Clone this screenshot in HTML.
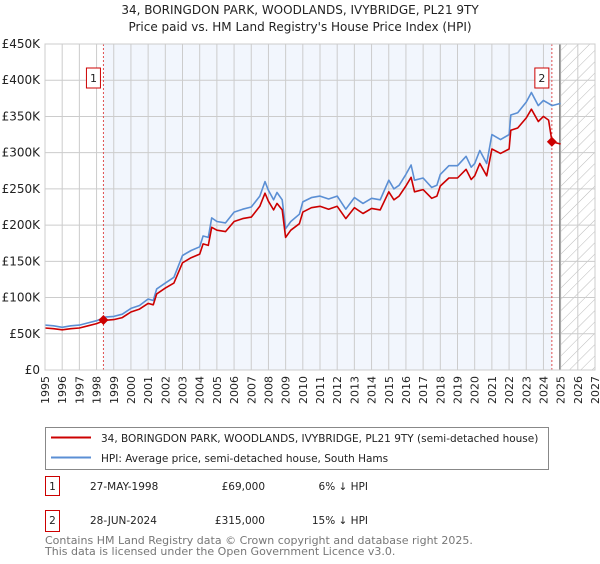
<!DOCTYPE html>
<html><head><meta charset="utf-8"><style>
body{margin:0;background:#fff;font-family:"DejaVu Sans","Liberation Sans",sans-serif;}
svg text{font-family:"DejaVu Sans","Liberation Sans",sans-serif;}
</style></head><body>
<svg id="c" width="600" height="560" xmlns="http://www.w3.org/2000/svg">
<defs><pattern id="hatch" width="8" height="8" patternUnits="userSpaceOnUse" patternTransform="rotate(45)"><line x1="0" y1="0" x2="0" y2="8" stroke="#bbb" stroke-width="1"/></pattern></defs>
<text x="300" y="14" text-anchor="middle" font-size="12" fill="#222">34, BORINGDON PARK, WOODLANDS, IVYBRIDGE, PL21 9TY</text>
<text x="300" y="31" text-anchor="middle" font-size="12" fill="#222">Price paid vs. HM Land Registry's House Price Index (HPI)</text>
<g id="plot"></g>
<g>
<rect x="45.5" y="427.5" width="503" height="42" fill="#fff" stroke="#888"/>
<line x1="51" y1="437.5" x2="91" y2="437.5" stroke="#cc0000" stroke-width="2"/>
<text x="101" y="442" font-size="10.5" fill="#222">34, BORINGDON PARK, WOODLANDS, IVYBRIDGE, PL21 9TY (semi-detached house)</text>
<line x1="51" y1="457.5" x2="91" y2="457.5" stroke="#5b8fd4" stroke-width="2"/>
<text x="101" y="462" font-size="10.5" fill="#222">HPI: Average price, semi-detached house, South Hams</text>
</g>
<g font-size="10.5" fill="#222">
<rect x="45.5" y="476.5" width="14" height="19" fill="#fff" stroke="#cc0000"/>
<text x="52.5" y="490" text-anchor="middle">1</text>
<text x="90" y="490">27-MAY-1998</text>
<text x="265" y="490" text-anchor="end">£69,000</text>
<text x="368" y="490" text-anchor="end">6% ↓ HPI</text>
<rect x="45.5" y="510.5" width="14" height="21" fill="#fff" stroke="#cc0000"/>
<text x="52.5" y="524" text-anchor="middle">2</text>
<text x="90" y="524">28-JUN-2024</text>
<text x="265" y="524" text-anchor="end">£315,000</text>
<text x="368" y="524" text-anchor="end">15% ↓ HPI</text>
</g>
<text x="45" y="544" font-size="11" fill="#777">Contains HM Land Registry data © Crown copyright and database right 2025.</text>
<text x="45" y="555" font-size="11" fill="#777">This data is licensed under the Open Government Licence v3.0.</text>
</svg>
<script>
const years=[1995,1995.5,1996,1996.5,1997,1997.5,1998,1998.5,1999,1999.5,2000,2000.5,2001,2001.3,2001.5,2002,2002.5,2003,2003.5,2004,2004.2,2004.5,2004.7,2005,2005.5,2006,2006.5,2007,2007.5,2007.8,2008,2008.3,2008.5,2008.8,2009,2009.3,2009.8,2010,2010.5,2011,2011.5,2012,2012.5,2013,2013.5,2014,2014.5,2015,2015.3,2015.6,2016,2016.3,2016.5,2017,2017.5,2017.8,2018,2018.5,2019,2019.5,2019.8,2020,2020.3,2020.7,2021,2021.5,2022,2022.1,2022.5,2023,2023.3,2023.7,2024,2024.3,2024.5,2025];
const hpiValues=[62,61,59,61,62,65,68,73,74,77,85,89,98,96,112,120,128,158,165,170,185,183,210,205,203,218,222,225,240,260,248,235,245,235,195,205,215,232,238,240,236,240,222,238,230,237,235,262,250,255,270,283,262,265,252,255,270,282,282,295,280,285,303,285,325,318,325,352,355,370,383,365,372,368,365,368];
const propValues=[58,57,55.5,57,58,61,64,68.6,69.6,72.4,80,84,92,90,105,113,120,148,155,160,174,172,197,193,191,205,209,211,226,244,233,221,230,221,183,193,202,218,224,226,222,226,209,224,216,223,221,246,235,240,254,266,246,249,237,240,254,265,265,277,263,268,285,268,305,299,305,331,334,348,360,343,350,345,315,312];
const yTicks=[0,50,100,150,200,250,300,350,400,450];
const yTickLabels=["£0","£50K","£100K","£150K","£200K","£250K","£300K","£350K","£400K","£450K"];
const xTicks=[1995,1996,1997,1998,1999,2000,2001,2002,2003,2004,2005,2006,2007,2008,2009,2010,2011,2012,2013,2014,2015,2016,2017,2018,2019,2020,2021,2022,2023,2024,2025,2026,2027];
const sales=[{n:"1",t:1998.4,v:69},{n:"2",t:2024.49,v:315}];
const dataEnd=2024.95;
const X0=45,X1=595,Y0=370,Y1=44;
const xs=t=>X0+(t-1995)/(2027-1995)*(X1-X0);
const ys=v=>Y0-v/450*(Y0-Y1);
const g=document.getElementById('plot');
const NS='http://www.w3.org/2000/svg';
function mk(tag,attrs,parent){const e=document.createElementNS(NS,tag);for(const k in attrs)e.setAttribute(k,attrs[k]);(parent||g).appendChild(e);return e;}
let r=mk('rect',{x:X0,y:Y1,width:X1-X0,height:Y0-Y1,fill:'#fff'});


r=mk('rect',{x:xs(sales[0].t),y:Y1,width:xs(sales[1].t)-xs(sales[0].t),height:Y0-Y1,fill:'#f2f6fd'});


r=mk('rect',{x:xs(dataEnd),y:Y1,width:X1-xs(dataEnd),height:Y0-Y1,fill:'url(#hatch)'});


xTicks.forEach(t=>{const l=mk('line',{x1:xs(t),x2:xs(t),y1:Y1,y2:Y0,stroke:'#ccc','stroke-width':1});


const tx=mk('text',{x:0,y:0,'font-size':11,fill:'#222','text-anchor':'end',transform:`translate(${xs(t)+4},${Y0+6}) rotate(-90)`});tx.textContent=t;

});
yTicks.forEach((v,i)=>{const l=mk('line',{x1:X0,x2:X1,y1:ys(v),y2:ys(v),stroke:'#ccc','stroke-width':1});


const tx=mk('text',{x:X0-5,y:ys(v)+4,'font-size':12,fill:'#222','text-anchor':'end'});tx.textContent=yTickLabels[i];

});
let ln=mk('line',{x1:xs(dataEnd),x2:xs(dataEnd),y1:Y1,y2:Y0,stroke:'#888','stroke-width':1.5});


sales.forEach(s=>{const l=mk('line',{x1:xs(s.t),x2:xs(s.t),y1:Y1,y2:Y0,stroke:'#e05050','stroke-width':1,'stroke-dasharray':'2,2'});

});
function path(vals,color,name){const d=vals.map((v,i)=>(i?'L':'M')+xs(years[i]).toFixed(1)+','+ys(v).toFixed(1)).join('');
const p=mk('path',{d:d,fill:'none',stroke:color,'stroke-width':1.6,'stroke-linejoin':'round'});

}
path(hpiValues,'#5b8fd4','hpi-line');
path(propValues,'#cc0000','property-line');
sales.forEach(s=>{const cx=xs(s.t),cy=ys(s.v);
const d=mk('path',{d:`M${cx},${cy-5}L${cx+5},${cy}L${cx},${cy+5}L${cx-5},${cy}Z`,fill:'#cc0000'});


const bx=cx-16;
const b=mk('rect',{x:bx-1,y:68,width:14,height:20,fill:'#fff',stroke:'#cc0000'});


const t=mk('text',{x:bx+6,y:82,'font-size':11,fill:'#222','text-anchor':'middle'});t.textContent=s.n;

});
r=mk('rect',{x:X0,y:Y1,width:X1-X0,height:Y0-Y1,fill:'none',stroke:'#ccc'});


</script>
</body></html>
